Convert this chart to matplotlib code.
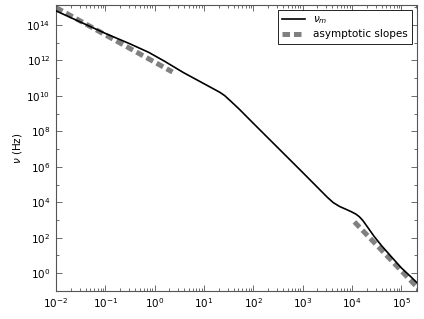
#!/usr/bin/env python3
"""Characteristic frequency nu_m versus time, with asymptotic slopes."""

import matplotlib

matplotlib.use("Agg")

import matplotlib.pyplot as plt
import numpy as np
from matplotlib.ticker import FixedLocator, LogFormatterMathtext, NullFormatter

# nu_m curve as (log10 x, log10 y)
curve_logx = [-2.0, -1.0, -0.5, -0.12, 0.2, 0.577, 1.32, 1.42, 1.55, 1.725,
              2.0, 3.0, 3.35, 3.5, 3.62, 3.75, 3.88, 3.99, 4.08, 4.15, 4.22,
              4.3, 4.45, 4.6, 4.8, 5.0, 5.2, 5.34]
curve_logy = [14.79, 13.52, 12.93, 12.45, 11.95, 11.32, 10.20, 10.01, 9.68,
              9.22, 8.45, 5.68, 4.70, 4.28, 3.98, 3.76, 3.60, 3.46, 3.33, 3.18,
              2.97, 2.66, 2.07, 1.55, 0.92, 0.30, -0.22, -0.60]

# asymptotic slopes: end points of the two straight segments
early_x = [1e-2, 2.3]
early_y = [9.5e14, 2.2e11]
late_x = [1.12e4, 2.2e5]
late_y = [7.8e2, 1.4e-1]

x_limits = (1e-2, 2.1e5)
y_limits = (1e-1, 1.3e15)

plt.rcParams["font.family"] = "DejaVu Sans"
plt.rcParams["mathtext.fontset"] = "dejavusans"

fig = plt.figure(figsize=(4.24, 3.19), dpi=100)
ax = fig.add_axes([0.132, 0.088, 0.852, 0.896])

ax.plot(10.0 ** np.array(curve_logx), 10.0 ** np.array(curve_logy),
        color="black", linewidth=1.2, label=r"$\nu_m$", zorder=3)
line_a, = ax.plot(early_x, early_y, color="#808080", linewidth=3.6,
                  label="asymptotic slopes", zorder=2, solid_capstyle="butt")
line_b, = ax.plot(late_x, late_y, color="#808080", linewidth=3.6, zorder=2)
for line in (line_a, line_b):
    line.set_dashes((1.5, 0.8))
    line.set_dash_capstyle("butt")

ax.set_xscale("log")
ax.set_yscale("log")
ax.set_xlim(*x_limits)
ax.set_ylim(*y_limits)

# major/minor ticks like the old classic look: inside, on all four sides
ax.xaxis.set_major_locator(FixedLocator([10.0 ** k for k in range(-2, 6)]))
ax.xaxis.set_minor_locator(FixedLocator(
    [m * 10.0 ** k for k in range(-2, 6) for m in range(2, 10)]))
ax.yaxis.set_major_locator(FixedLocator([10.0 ** k for k in range(0, 15, 2)]))
ax.yaxis.set_minor_locator(FixedLocator([10.0 ** k for k in range(-1, 16, 2)]))
ax.xaxis.set_major_formatter(LogFormatterMathtext())
ax.yaxis.set_major_formatter(LogFormatterMathtext())
ax.xaxis.set_minor_formatter(NullFormatter())
ax.yaxis.set_minor_formatter(NullFormatter())
ax.tick_params(which="both", direction="in", top=True, right=True,
               labelsize=7.5, width=0.6, color="#555555")
ax.tick_params(which="major", length=4, pad=4)
ax.tick_params(which="minor", length=2)
for spine in ax.spines.values():
    spine.set_linewidth(0.8)
    spine.set_color("#555555")

ax.set_ylabel(r"$\nu$ (Hz)", fontsize=7.5, labelpad=2)

leg = ax.legend(loc="upper right", fontsize=7.5, fancybox=False, framealpha=1,
                edgecolor="black", borderaxespad=0.5, handlelength=2.2,
                borderpad=0.4, labelspacing=0.3)
leg.get_frame().set_linewidth(0.6)

fig.savefig("out.png", dpi=100)
